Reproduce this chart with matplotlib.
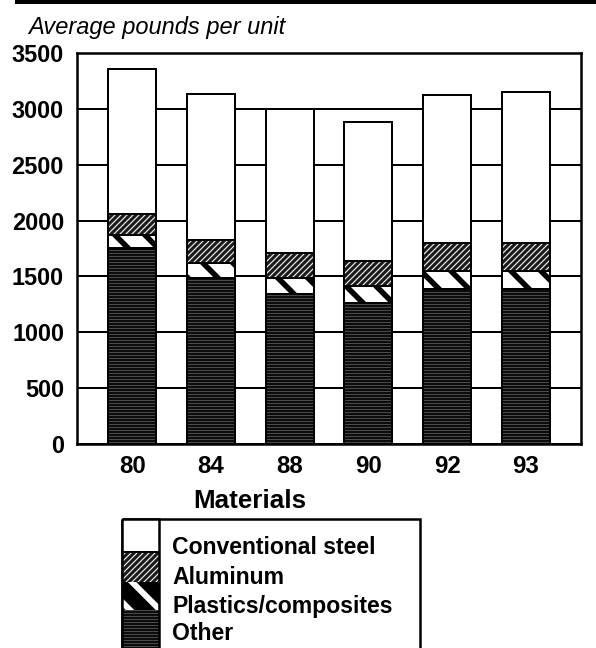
import matplotlib
matplotlib.use("Agg")
import matplotlib.pyplot as plt
from matplotlib.patches import Rectangle
import numpy as np

# Model years and average pounds per vehicle by material
years = ["80", "84", "88", "90", "92", "93"]
other = [1750, 1490, 1340, 1260, 1390, 1390]
plastics = [120, 130, 150, 150, 160, 160]
aluminum = [190, 210, 220, 230, 250, 250]
steel = [1300, 1300, 1290, 1240, 1325, 1350]
yticks = [0, 500, 1000, 1500, 2000, 2500, 3000, 3500]
legend_labels = ["Conventional steel", "Aluminum", "Plastics/composites", "Other"]

DPI = 180
W, H = 596, 648


def pt(px):
    return px * 72.0 / DPI


def hatch_width(artists, lw_px):
    """Give each artist its own hatch line width."""
    lw = pt(lw_px)
    for a in artists:
        if hasattr(a, "set_hatch_linewidth"):
            a.set_hatch_linewidth(lw)
        orig = a.draw

        def draw(renderer, _orig=orig, _lw=lw):
            with plt.rc_context({"hatch.linewidth": _lw}):
                _orig(renderer)

        a.draw = draw


plt.rcParams["font.family"] = ["Liberation Sans", "DejaVu Sans"]

fig = plt.figure(figsize=(W / DPI, H / DPI), dpi=DPI)
fig.patch.set_facecolor("white")

ax = fig.add_axes([77 / W, 1 - 444 / H, 504 / W, 391 / H])

x = np.arange(len(years))
bw = 0.61

PLASTIC_HATCH = "\\\\"
ALU_HATCH = "/" * 10
OTHER_HATCH = "-" * 10

styles = [
    # (values, face, hatch colour, hatch, hatch line width in px)
    (other, "#0c0c0c", "#5a5a5a", OTHER_HATCH, 0.8),
    (plastics, "white", "black", PLASTIC_HATCH, 5.5),
    (aluminum, "#1a1a1a", "#e8e8e8", ALU_HATCH, 1.2),
    (steel, "white", "white", None, 1.0),
]

bottom = np.zeros(len(years))
for vals, face, hcol, hatch, hlw in styles:
    plt.rcParams["hatch.linewidth"] = pt(hlw)
    bars = ax.bar(x, vals, bw, bottom=bottom, facecolor=face, edgecolor=hcol,
                  hatch=hatch, linewidth=0, zorder=2)
    hatch_width(bars, hlw)
    ax.bar(x, vals, bw, bottom=bottom, fill=False, edgecolor="black",
           linewidth=pt(2), zorder=3)
    bottom = bottom + np.array(vals)

ax.set_xlim(-0.7, 5.7)
ax.set_ylim(0, 3500)
ax.set_yticks(yticks)
ax.set_yticklabels([str(v) for v in yticks])
ax.set_xticks(x)
ax.set_xticklabels(years)
ax.yaxis.grid(True, color="black", linewidth=pt(2))
ax.set_axisbelow(True)
for s in ax.spines.values():
    s.set_linewidth(pt(2.5))
    s.set_color("black")
ax.tick_params(axis="y", length=0, pad=pt(13), labelsize=pt(23.5))
ax.tick_params(axis="x", length=0, pad=pt(11), labelsize=pt(24))
plt.setp(ax.get_yticklabels(), fontweight="bold")
plt.setp(ax.get_xticklabels(), fontweight="bold")

# Overlay in pixel coordinates for title, rule and legend
lax = fig.add_axes([0, 0, 1, 1], zorder=5)
lax.set_xlim(0, W)
lax.set_ylim(H, 0)
lax.axis("off")
lax.patch.set_alpha(0)

lax.plot([15, W], [2, 2], color="black", linewidth=pt(4), solid_capstyle="butt")
lax.text(28, 34, "Average pounds per unit", fontsize=pt(23.6), style="italic",
         ha="left", va="baseline")
lax.text(250, 501, "Materials", fontsize=pt(26), fontweight="bold",
         ha="center", va="center")

# Legend box with stacked swatches
lax.add_patch(Rectangle((122, 519), 298, 140, fill=False, edgecolor="black",
                        linewidth=pt(2.5), clip_on=False))
sw = [
    (519, 33, "white", "white", None, 1.0),
    (552, 30, "#1a1a1a", "#e8e8e8", ALU_HATCH, 1.2),
    (582, 28, "black", "white", PLASTIC_HATCH, 6.0),
    (610, 40, "#0c0c0c", "#5a5a5a", OTHER_HATCH, 0.8),
]
for y0, h, face, hcol, hatch, hlw in sw:
    plt.rcParams["hatch.linewidth"] = pt(hlw)
    r = Rectangle((122, y0), 37, h, facecolor=face, edgecolor=hcol, hatch=hatch,
                  linewidth=0)
    lax.add_patch(r)
    hatch_width([r], hlw)
lax.add_patch(Rectangle((122, 519), 37, 140, fill=False, edgecolor="black",
                        linewidth=pt(2.5), clip_on=False))
lax.plot([122, 159], [552, 552], color="black", linewidth=pt(2))

for label, yc in zip(legend_labels, [547, 577, 606, 633]):
    lax.text(172, yc, label, fontsize=pt(23), fontweight="bold",
             ha="left", va="center")

fig.savefig("out.png", dpi=DPI, facecolor="white")
